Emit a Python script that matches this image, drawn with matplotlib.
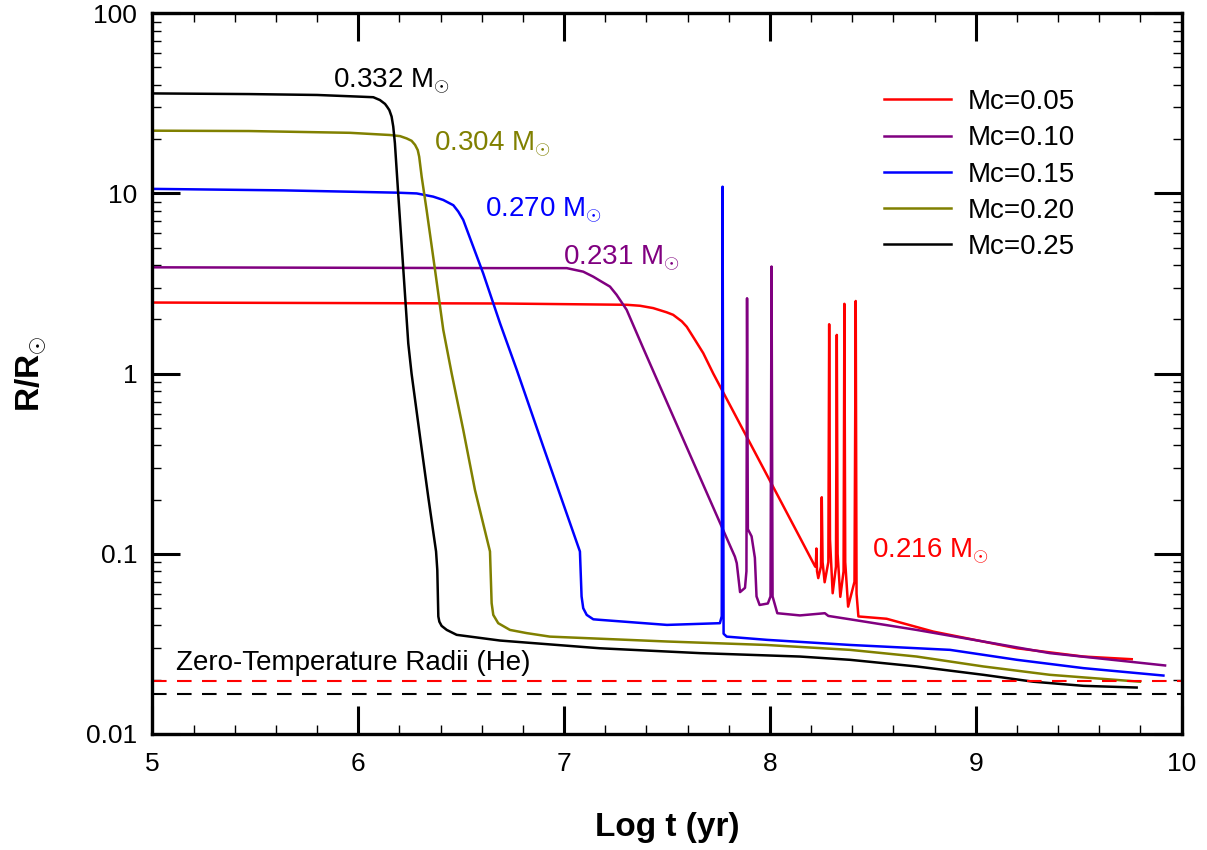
import numpy as np
import matplotlib
matplotlib.use("Agg")
import matplotlib.pyplot as plt
from matplotlib.ticker import MultipleLocator, LogLocator, NullFormatter, FixedLocator, FixedFormatter

plt.rcParams['font.family'] = ['Liberation Sans', 'DejaVu Sans']
plt.rcParams['mathtext.fontset'] = 'custom'
plt.rcParams['mathtext.rm'] = 'Liberation Sans'
plt.rcParams['mathtext.bf'] = 'Liberation Sans:bold'

# log t (yr) and R/Rsun for each core mass
t_05 = [5.0, 6.689, 7.304, 7.369, 7.433, 7.498, 7.53, 7.572, 7.596, 7.636, 7.676, 7.725,
        7.887, 8.017, 8.146, 8.203, 8.22,
        8.223, 8.226, 8.229, 8.235, 8.248, 8.252, 8.256, 8.266, 8.284, 8.288, 8.292, 8.305,
        8.321, 8.325, 8.329, 8.342, 8.358, 8.362, 8.366, 8.38, 8.411, 8.417, 8.421, 8.43,
        8.567, 8.794, 9.2, 9.523, 9.758]
r_05 = [2.48, 2.45, 2.41, 2.38, 2.31, 2.19, 2.12, 1.95, 1.82, 1.54, 1.30, 1.0,
        0.447, 0.234, 0.123, 0.0924, 0.0849,
        0.085, 0.107, 0.08, 0.0733, 0.085, 0.206, 0.09, 0.0695, 0.09, 1.88, 0.12, 0.0604,
        0.085, 1.64, 0.10, 0.0577, 0.08, 2.44, 0.09, 0.0509, 0.07, 2.53, 0.06, 0.0449,
        0.0436, 0.037, 0.0299, 0.0269, 0.026]

t_10 = [5.0, 6.689, 7.013, 7.093, 7.142, 7.174, 7.223, 7.255, 7.304, 7.385, 7.442, 7.596,
        7.757, 7.83, 7.839, 7.855,
        7.879, 7.886, 7.889, 7.893, 7.911, 7.927, 7.935, 7.95, 7.99, 8.003, 8.008, 8.013, 8.036,
        8.146, 8.267, 8.284, 8.389, 8.713, 9.037, 9.36, 9.92]
r_10 = [3.89, 3.85, 3.85, 3.68, 3.45, 3.28, 3.04, 2.74, 2.26, 1.38, 0.98, 0.39,
        0.149, 0.0964, 0.0887, 0.0613,
        0.0647, 0.08, 2.62, 0.137, 0.125, 0.095, 0.058, 0.052, 0.053, 0.058, 3.93, 0.058, 0.0468,
        0.0455, 0.0468, 0.0452, 0.0433, 0.0378, 0.0326, 0.0281, 0.024]

t_15 = [5.0, 5.636, 6.187, 6.284, 6.364, 6.413, 6.462, 6.486, 6.51, 6.607, 6.689, 6.77, 6.899,
        7.077, 7.085, 7.093, 7.11, 7.142, 7.174, 7.5, 7.757, 7.766, 7.770, 7.775, 7.79, 7.985,
        8.389, 8.875, 9.2, 9.523, 9.912]
r_15 = [10.6, 10.4, 10.1, 10.0, 9.6, 9.2, 8.6, 7.93, 7.13, 3.6, 1.9, 1.05, 0.393,
        0.103, 0.058, 0.0499, 0.0458, 0.0433, 0.043, 0.0403, 0.0412, 0.045, 10.9, 0.036, 0.0347, 0.0333,
        0.0312, 0.0293, 0.0258, 0.0232, 0.0211]

t_20 = [5.0, 5.47, 5.96, 6.154, 6.203, 6.235, 6.259, 6.276, 6.289, 6.296, 6.308, 6.332, 6.373,
        6.413, 6.454, 6.51, 6.567, 6.64, 6.648, 6.656, 6.68, 6.737, 6.818, 6.931, 7.5, 7.98,
        8.389, 8.713, 9.037, 9.36, 9.798]
r_20 = [22.3, 22.2, 21.7, 21.1, 20.8, 20.2, 19.6, 18.6, 17.4, 16.0, 12.4, 8.1, 3.76,
        1.75, 1.0, 0.488, 0.226, 0.103, 0.0532, 0.0458, 0.0412, 0.0378, 0.0363, 0.0347, 0.0326, 0.0312,
        0.0293, 0.0269, 0.0237, 0.0213, 0.0195]

t_25 = [5.0, 5.47, 5.80, 6.02, 6.073, 6.105, 6.13, 6.14, 6.151, 6.162, 6.17, 6.178, 6.194,
        6.219, 6.243, 6.259, 6.30, 6.34, 6.378, 6.384, 6.389, 6.394, 6.405, 6.43, 6.478, 6.689,
        7.174, 7.66, 8.146, 8.389, 8.713, 9.037, 9.28, 9.523, 9.782]
r_25 = [35.9, 35.6, 35.2, 34.4, 34.2, 33.0, 31.4, 30.3, 29.0, 26.7, 23.5, 19.0, 10.0,
        3.77, 1.47, 1.0, 0.447, 0.207, 0.103, 0.0814, 0.0449, 0.042, 0.0398, 0.0378, 0.0355, 0.033,
        0.0299, 0.0281, 0.0269, 0.0258, 0.0237, 0.0213, 0.0195, 0.0185, 0.0181]

labels = ['Mc=0.05', 'Mc=0.10', 'Mc=0.15', 'Mc=0.20', 'Mc=0.25']
colors = ['#ff0000', '#800080', '#0000ff', '#808000', '#000000']

# final masses written next to each track
mass_text = ['0.216', '0.231', '0.270', '0.304', '0.332']
mass_pos = [(8.495, 0.0957), (6.996, 4.06), (6.616, 7.43), (6.369, 17.4), (5.876, 38.8)]

# zero-temperature He radii
zt_r = [0.0197, 0.0167]
zt_colors = ['#ff0000', '#000000']

fig = plt.figure(figsize=(12.07, 8.5), dpi=100)
ax = fig.add_axes([0.1263, 0.1365, 0.9789 - 0.1263, 0.9844 - 0.1365])

tracks = [(t_05, r_05), (t_10, r_10), (t_15, r_15), (t_20, r_20), (t_25, r_25)]
for (t, r), c, lab in zip(tracks, colors, labels):
    ax.plot(t, r, color=c, lw=1.8, label=lab, solid_joinstyle='round')

for r, c in zip(zt_r, zt_colors):
    ax.axhline(r, color=c, lw=1.5, dashes=(7, 5))

for txt, (x, y), c in zip(mass_text, mass_pos, colors):
    ax.text(x, y, txt + r' M$_{\odot}$', color=c, fontsize=20, ha='left', va='baseline')

ax.text(5.115, 0.0226, 'Zero-Temperature Radii (He)', fontsize=20, ha='left', va='baseline')

ax.set_yscale('log')
ax.set_xlim(5, 10)
ax.set_ylim(0.01, 100)

ax.xaxis.set_major_locator(MultipleLocator(1))
ax.xaxis.set_minor_locator(MultipleLocator(0.2))
ax.yaxis.set_major_locator(FixedLocator([0.01, 0.1, 1, 10, 100]))
ax.yaxis.set_major_formatter(FixedFormatter(['0.01', '0.1', '1', '10', '100']))
ax.yaxis.set_minor_locator(LogLocator(base=10, subs=np.arange(2, 10)))
ax.yaxis.set_minor_formatter(NullFormatter())

ax.tick_params(which='both', direction='in', top=True, right=True, labelsize=19)
ax.tick_params(which='major', length=20, width=2.2)
ax.tick_params(which='minor', length=6.5, width=1.0)
ax.tick_params(axis='x', which='major', pad=13)
ax.tick_params(axis='y', which='major', pad=11)
for s in ax.spines.values():
    s.set_linewidth(2.4)

ax.set_xlabel('Log t (yr)', fontsize=24, fontweight='bold', labelpad=26)
ax.set_ylabel(r'R/R$_{\odot}$', fontsize=24, fontweight='bold', labelpad=27)

ax.legend(loc='upper left', bbox_to_anchor=(884 / 1207, 1 - 89 / 850),
          bbox_transform=fig.transFigure, frameon=False, fontsize=20,
          handlelength=2.4, handletextpad=0.6, labelspacing=0.37,
          borderpad=0, borderaxespad=0)

fig.savefig('out.png', dpi=100)
